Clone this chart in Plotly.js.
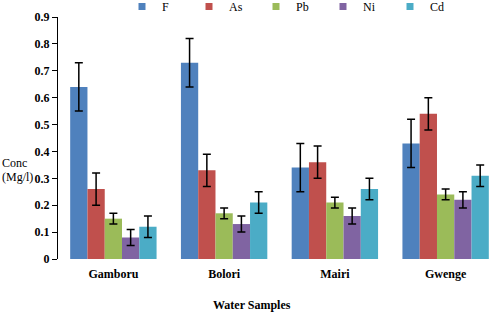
<!DOCTYPE html>
<html>
<head>
<meta charset="utf-8">
<script src="https://cdn.plot.ly/plotly-3.0.1.min.js"></script>
<style>html,body{margin:0;padding:0;background:#fff}#chart{width:501px;height:314px}</style>
</head>
<body>
<div id="chart"></div>
<script>
const categories = ["Gamboru", "Bolori", "Mairi", "Gwenge"];
const seriesNames = ["F", "As", "Pb", "Ni", "Cd"];
const F  = [0.64, 0.73, 0.34, 0.43];
const As = [0.26, 0.33, 0.36, 0.54];
const Pb = [0.15, 0.17, 0.21, 0.24];
const Ni = [0.08, 0.13, 0.16, 0.22];
const Cd = [0.12, 0.21, 0.26, 0.31];
const errF  = [0.09, 0.09, 0.09, 0.09];
const errAs = [0.06, 0.06, 0.06, 0.06];
const errPb = [0.02, 0.02, 0.02, 0.02];
const errNi = [0.03, 0.03, 0.03, 0.03];
const errCd = [0.04, 0.04, 0.04, 0.04];
const colors = ["#4F81BD", "#C0504D", "#9BBB59", "#8064A2", "#4BACC6"];

const values = [F, As, Pb, Ni, Cd];
const errors = [errF, errAs, errPb, errNi, errCd];
const serif = "Liberation Serif";

const bars = seriesNames.map((name, i) => ({
  type: "bar",
  name: name,
  legendgroup: name,
  showlegend: false,
  x: categories,
  y: values[i],
  marker: {color: colors[i]},
  error_y: {type: "data", array: errors[i], visible: true, color: "#000", thickness: 1.5, width: 4}
}));
// legend-only entries with small square symbols
const keys = seriesNames.map((name, i) => ({
  type: "scatter", mode: "markers", name: name, legendgroup: name,
  x: [categories[0]], y: [null],
  marker: {symbol: "square", size: 7, color: colors[i]},
  hoverinfo: "skip"
}));

const layout = {
  width: 501, height: 314,
  margin: {l: 58, r: 0, t: 17, b: 55, autoexpand: false},
  paper_bgcolor: "#fff", plot_bgcolor: "#fff",
  barmode: "group", bargap: 0.22, bargroupgap: 0,
  font: {family: serif, color: "#000", size: 12},
  showlegend: true,
  legend: {orientation: "h", x: (122-58)/443, xanchor: "left", y: 1 + 25/242, yanchor: "top",
           entrywidth: 22, entrywidthmode: "pixels", font: {family: serif, size: 12},
           itemwidth: 30, tracegroupgap: 0, bgcolor: "rgba(0,0,0,0)", borderwidth: 0},
  xaxis: {type: "category", showline: false, ticks: "", showgrid: false, zeroline: false,
          tickfont: {family: serif, size: 12, weight: 700}, ticklabelstandoff: 6},
  yaxis: {range: [0, 0.9], dtick: 0.1, showline: true, linecolor: "#000", linewidth: 1,
          ticks: "outside", ticklen: 5, tickcolor: "#000", showgrid: false, zeroline: false,
          tickfont: {family: serif, size: 12, weight: 700}, tickformat: ".1~f"},
  annotations: [
    {text: "Conc", xref: "paper", yref: "paper", x: -58/443, y: (259-163)/242, xanchor: "left", yanchor: "middle",
     showarrow: false, align: "left", font: {family: serif, size: 12}},
    {text: "(Mg/l)", xref: "paper", yref: "paper", x: -58/443, y: (259-177)/242, xanchor: "left", yanchor: "middle",
     showarrow: false, align: "left", font: {family: serif, size: 12}},
    {text: "<b>Water Samples</b>", xref: "paper", yref: "paper", x: (252-58)/443, y: -(305-259)/242, xanchor: "center", yanchor: "middle",
     showarrow: false, font: {family: serif, size: 12}}
  ]
};

Plotly.newPlot("chart", bars.concat(keys), layout, {staticPlot: true, displayModeBar: false});
</script>
</body>
</html>
